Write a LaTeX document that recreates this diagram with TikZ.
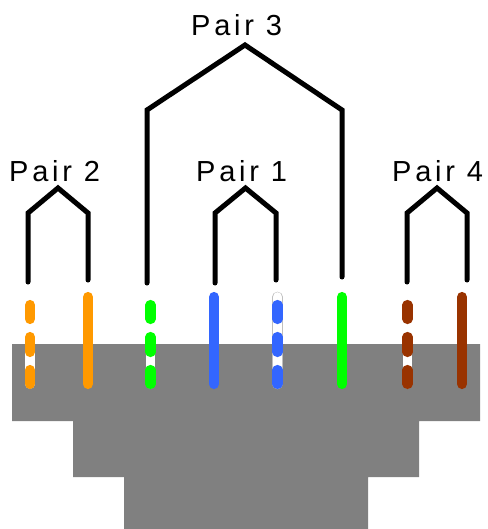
\documentclass[tikz,border=0pt]{standalone}
\usepackage{fontspec}
\setmainfont[LetterSpace=13]{Liberation Sans}
\definecolor{wireorange}{HTML}{FF9900}
\definecolor{wiregreen}{HTML}{00FF00}
\definecolor{wireblue}{HTML}{3366FF}
\definecolor{wirebrown}{HTML}{993300}
\definecolor{base}{HTML}{808080}
\tikzset{
  pairline/.style={draw=black,line width=5pt,line cap=round,line join=miter},
  wire/.style={line width=10.2pt,line cap=round},
  pairlabel/.style={anchor=base west,inner sep=0pt,font=\fontsize{29}{29}\selectfont},
}
\newcommand{\solidwire}[2]{\draw[wire,#2] (#1,297) -- (#1,384);}
\newcommand{\stripewire}[2]{%
  \draw[line width=9.6pt,line cap=round,white] (#1,297) -- (#1,384);
  \draw[wire,#2] (#1,305) -- (#1,319);
  \draw[wire,#2] (#1,337) -- (#1,352);
  \draw[wire,#2] (#1,370) -- (#1,384);}
\begin{document}
\begin{tikzpicture}[x=1pt,y=-1pt]
\useasboundingbox (0,0) rectangle (487,529);
\fill[base] (12,344) -- (480,344) -- (480,421) -- (419,421) -- (419,477) -- (368,477) -- (368,529) -- (124,529) -- (124,477) -- (73,477) -- (73,421) -- (12,421) -- cycle;
\stripewire{30}{wireorange}
\solidwire{88}{wireorange}
\stripewire{150.5}{wiregreen}
\solidwire{214}{wireblue}
\draw[line width=10.6pt,line cap=round,lightgray] (277.5,297) -- (277.5,384);
\stripewire{277.5}{wireblue}
\solidwire{342}{wiregreen}
\stripewire{407.5}{wirebrown}
\solidwire{462}{wirebrown}
\coordinate (p2a) at (28,282);
\coordinate (p2b) at (88,280);
\coordinate (p3a) at (147,283);
\coordinate (p3b) at (342,277);
\coordinate (p1a) at (215,283);
\coordinate (p1b) at (276,280);
\coordinate (p4a) at (407,282);
\coordinate (p4b) at (467,280);
\draw[pairline] (p2a) -- (28,213) -- (58,188) -- (88,213) -- (p2b);
\draw[pairline] (p3a) -- (147,110) -- (245,45) -- (342,110) -- (p3b);
\draw[pairline] (p1a) -- (215,213) -- (245.5,188) -- (276,213) -- (p1b);
\draw[pairline] (p4a) -- (407,213) -- (437,188) -- (467,213) -- (p4b);
\node[pairlabel] (lab2) at (9,182) {Pair 2};
\node[pairlabel] (lab3) at (191,36) {Pair 3};
\node[pairlabel] (lab1) at (196,182) {Pair 1};
\node[pairlabel] (lab4) at (392,182) {Pair 4};
\end{tikzpicture}
\end{document}
